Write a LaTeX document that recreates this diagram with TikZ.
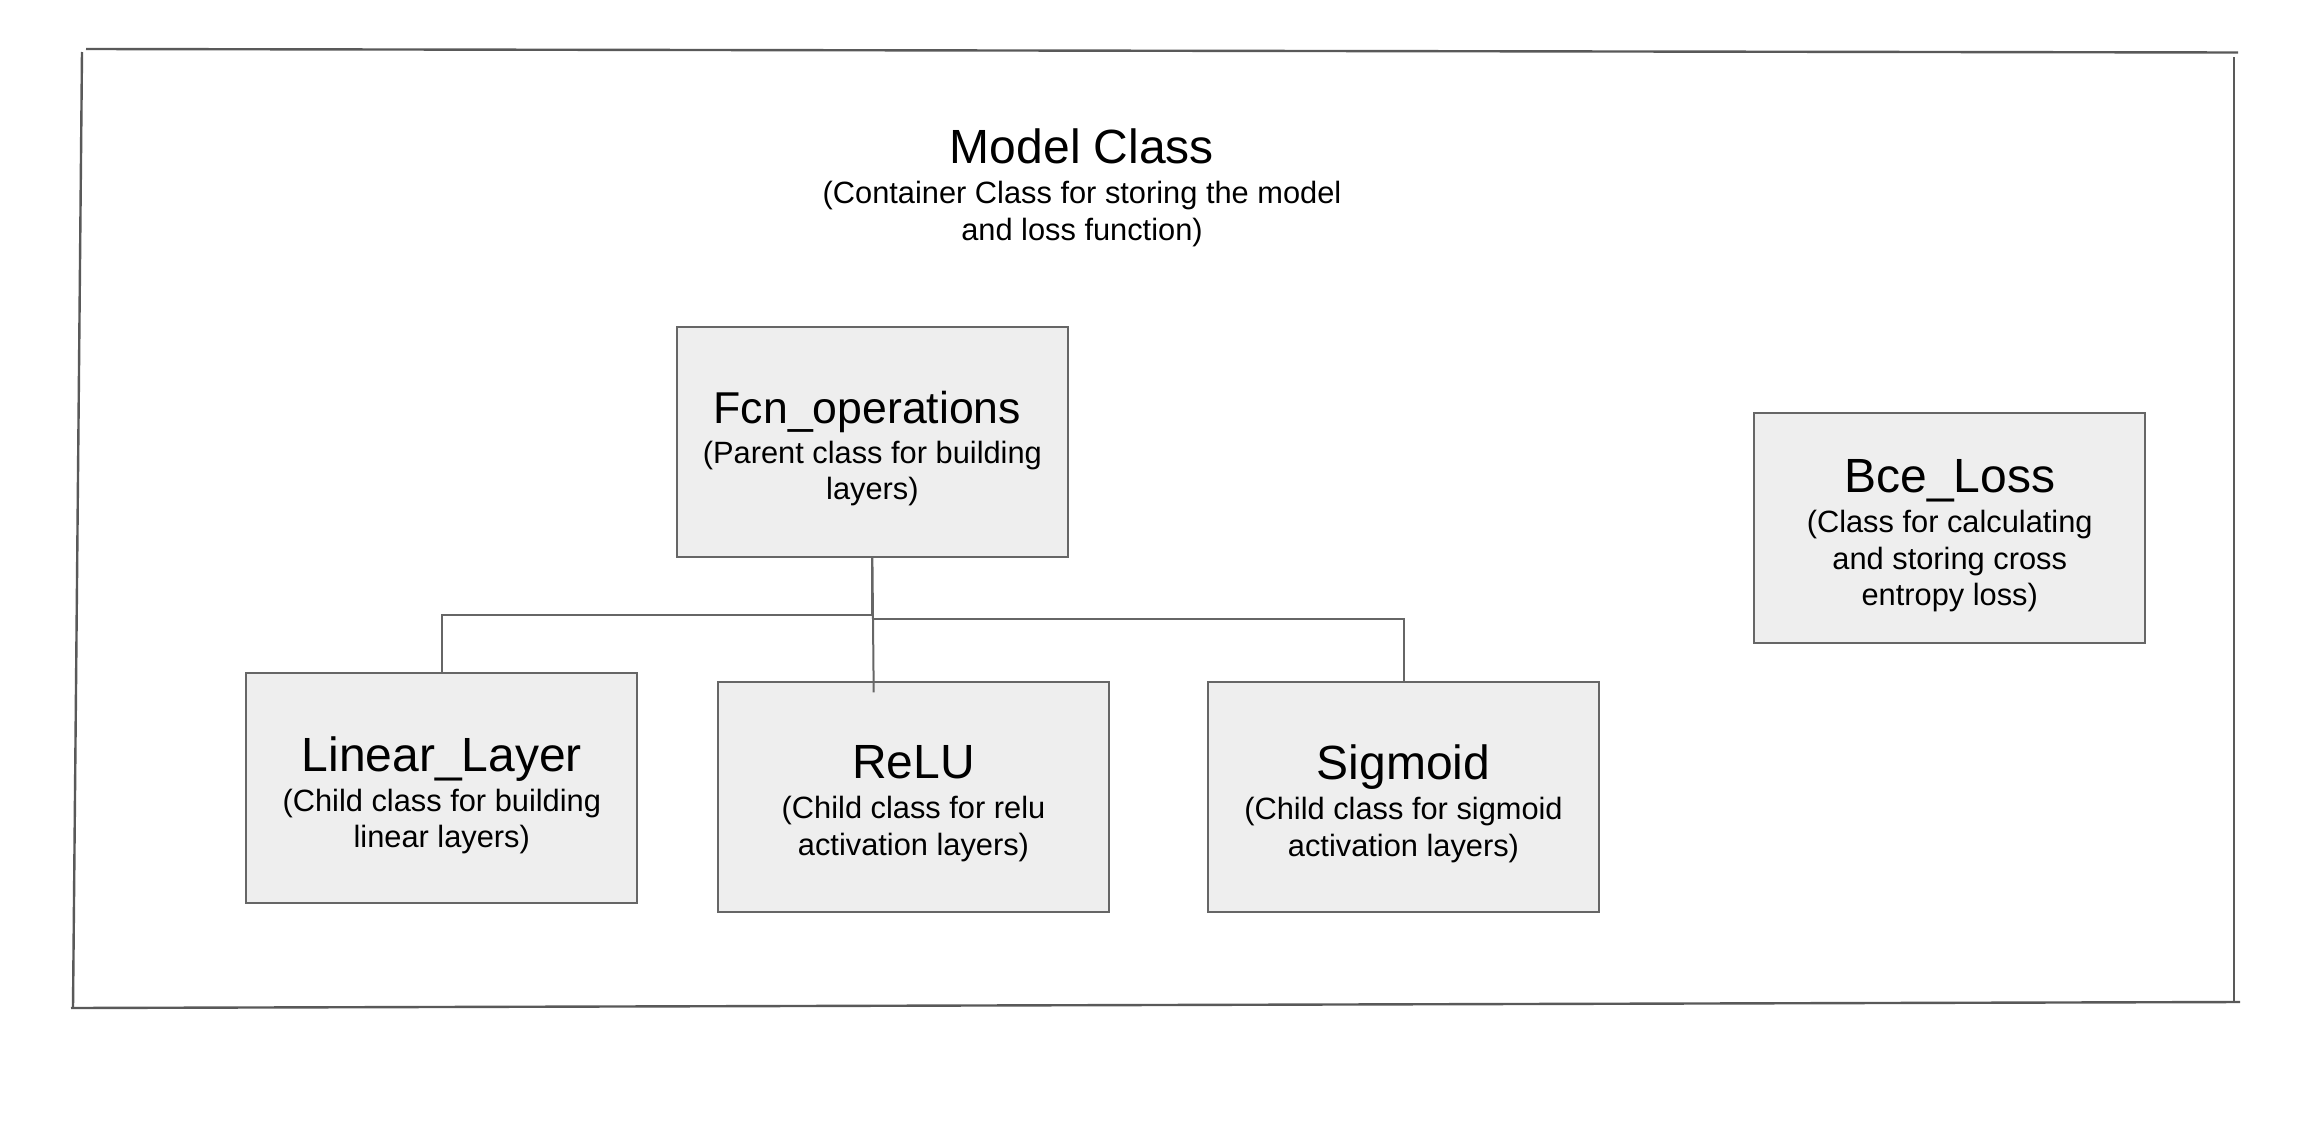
\documentclass[tikz,border=0pt]{standalone}
\usepackage{fontspec}
\setmainfont{Liberation Sans}
\definecolor{boxfill}{HTML}{EEEEEE}
\definecolor{boxline}{HTML}{666666}
\definecolor{frameline}{HTML}{595959}
\newcommand{\clstitle}[2]{{\fontsize{#1}{#1}\selectfont #2}\\[1.75pt]}
\tikzset{
  classbox/.style={draw=boxline, fill=boxfill, line width=1pt,
    minimum width=195.5pt, minimum height=115pt, inner sep=0pt},
  classtext/.style={align=center, inner sep=0pt, yshift=-3.5pt,
    font=\fontsize{15.4}{18.25}\selectfont},
  conn/.style={draw=boxline, line width=1pt},
  framestroke/.style={draw=frameline, line width=1.2pt},
}
\begin{document}
\begin{tikzpicture}[x=0.5pt, y=-0.5pt]
\useasboundingbox (0,0) rectangle (2324,1124);

% outer frame (four loose strokes)
\coordinate (ft1) at (86,49);   \coordinate (ft2) at (2238,52.5);
\coordinate (fl1) at (82,52);   \coordinate (fl2) at (73,1008);
\coordinate (fb1) at (71,1008); \coordinate (fb2) at (2240,1002);
\coordinate (fr1) at (2234,57); \coordinate (fr2) at (2234,1001);
\draw[framestroke] (ft1) -- (ft2);
\draw[framestroke] (fl1) -- (fl2);
\draw[framestroke] (fb1) -- (fb2);
\draw[framestroke] (fr1) -- (fr2);

% title
\node[classtext, yshift=2.9pt] (model) at (1082,186.8)
  {\clstitle{24}{Model Class}(Container Class for storing the model\\and loss function)};

% boxes
\node[classbox] (fcn)  at (872.4,441.7) {};
\node[classbox] (lin)  at (441.8,788.3) {};
\node[classbox] (relu) at (913.5,796.7) {};
\node[classbox] (sig)  at (1403.5,796.7) {};
\node[classbox] (bce)  at (1949.7,527.5) {};

\node[classtext] (fcnT) at (fcn.center)
  {\clstitle{22.3}{Fcn\_operations\kern5pt}(Parent class for building\\layers)};
\node[classtext] (linT) at (lin.center)
  {\clstitle{24}{Linear\_Layer}(Child class for building\\linear layers)};
\node[classtext] (reluT) at (relu.center)
  {\clstitle{24}{ReLU}(Child class for relu\\activation layers)};
\node[classtext] (sigT) at (sig.center)
  {\clstitle{24}{Sigmoid}(Child class for sigmoid\\activation layers)};
\node[classtext, yshift=-0.75pt] (bceT) at (bce.center)
  {\clstitle{24}{Bce\_Loss}(Class for calculating\\and storing cross\\entropy loss)};

% connectors
\coordinate (jl) at (872.4,614.7);
\coordinate (jr) at (872.4,619);
\coordinate (reluTip) at (873.7,692.3);
\draw[conn] (fcn.south) -- (jl) -| (lin.north);
\draw[conn] (jr) -| (sig.north);
\draw[conn] (fcn.south) -- (reluTip);
\end{tikzpicture}
\end{document}
